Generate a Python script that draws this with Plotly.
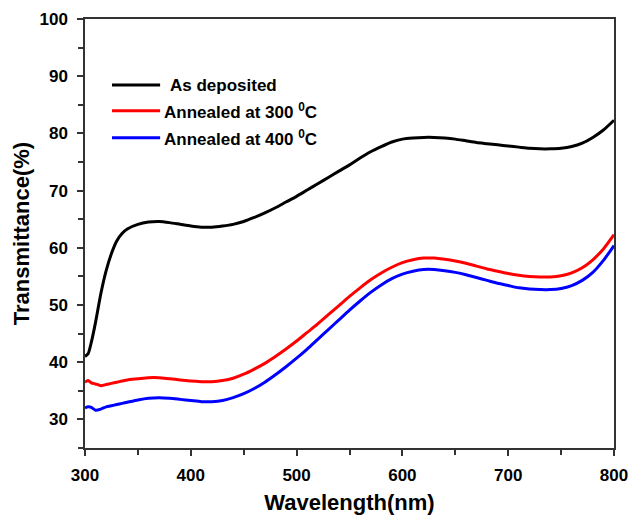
import plotly.graph_objects as go

# Wavelength grid (nm)
wavelength = [300, 303, 306, 310, 315, 320, 325, 330, 335, 340, 350, 360, 370, 380, 390,
              400, 410, 420, 430, 440, 450, 460, 470, 480, 490, 500, 510, 520, 530, 540,
              550, 560, 570, 580, 590, 600, 610, 620, 630, 640, 650, 660, 670, 680, 690,
              700, 710, 720, 730, 740, 750, 760, 770, 780, 790, 800]

# Transmittance (%) for each film
as_deposited = [41.0, 41.5, 43.5, 47.0, 52.0, 56.0, 59.0, 61.2, 62.5, 63.3, 64.1, 64.5, 64.6, 64.4, 64.1,
                63.8, 63.6, 63.6, 63.8, 64.1, 64.6, 65.3, 66.1, 67.0, 68.0, 69.0, 70.1, 71.2, 72.3, 73.4,
                74.5, 75.7, 76.8, 77.7, 78.5, 79.0, 79.2, 79.3, 79.3, 79.2, 79.0, 78.7, 78.4, 78.2, 78.0,
                77.8, 77.6, 77.4, 77.3, 77.3, 77.4, 77.7, 78.3, 79.3, 80.6, 82.3]

annealed_300 = [36.5, 36.8, 36.4, 36.2, 35.9, 36.1, 36.3, 36.5, 36.7, 36.9, 37.1, 37.3, 37.3, 37.1, 36.9,
                36.7, 36.6, 36.6, 36.8, 37.2, 37.9, 38.8, 39.8, 41.0, 42.3, 43.7, 45.2, 46.7, 48.3, 49.9,
                51.5, 53.0, 54.4, 55.6, 56.6, 57.4, 57.9, 58.2, 58.2, 58.0, 57.7, 57.3, 56.8, 56.3, 55.9,
                55.5, 55.2, 55.0, 54.9, 54.9, 55.1, 55.6, 56.5, 57.9, 59.8, 62.3]

annealed_400 = [32.0, 32.2, 32.1, 31.6, 31.8, 32.2, 32.4, 32.6, 32.8, 33.0, 33.4, 33.7, 33.8, 33.7, 33.5,
                33.3, 33.1, 33.1, 33.3, 33.8, 34.5, 35.4, 36.5, 37.8, 39.2, 40.7, 42.3, 44.0, 45.7, 47.4,
                49.1, 50.7, 52.2, 53.5, 54.6, 55.4, 55.9, 56.2, 56.2, 56.0, 55.7, 55.3, 54.8, 54.3, 53.8,
                53.4, 53.0, 52.8, 52.7, 52.7, 52.9, 53.4, 54.3, 55.7, 57.8, 60.4]

series_names = ["As deposited", "Annealed at 300 <sup>0</sup>C", "Annealed at 400 <sup>0</sup>C"]
series_colors = ["#000000", "#ff0000", "#0000ff"]
series_values = [as_deposited, annealed_300, annealed_400]

x_ticks = [300, 400, 500, 600, 700, 800]
y_ticks = [30, 40, 50, 60, 70, 80, 90, 100]

FONT = "Liberation Sans, Arial, sans-serif"

fig = go.Figure()
for name, color, vals in zip(series_names, series_colors, series_values):
    fig.add_trace(go.Scatter(x=wavelength, y=vals, mode="lines", name=name,
                             line=dict(color=color, width=3, shape="spline", smoothing=0.6),
                             showlegend=False))

# Hand-placed legend inside the upper-left corner
legend_y = [0.846, 0.786, 0.723]
legend_text_x = [0.157, 0.146, 0.146]
for name, color, ly, tx in zip(series_names, series_colors, legend_y, legend_text_x):
    fig.add_shape(type="line", xref="paper", yref="paper", x0=0.051, x1=0.142, y0=ly, y1=ly,
                  line=dict(color=color, width=3))
    fig.add_annotation(xref="paper", yref="paper", x=tx, y=ly, xanchor="left", yanchor="middle",
                       text="<b>" + name + "</b>", showarrow=False,
                       font=dict(family=FONT, size=17, color="black"))

axis_common = dict(showline=True, linecolor="#333333", linewidth=1.5, mirror=True,
                   ticks="outside", ticklen=6, tickwidth=1.5, tickcolor="#333333",
                   showgrid=False, zeroline=False, automargin=False,
                   tickfont=dict(family=FONT, size=17, color="black"))

fig.update_layout(
    width=632, height=517,
    margin=dict(l=85, r=18, t=19, b=69),
    paper_bgcolor="white", plot_bgcolor="white",
    xaxis=dict(range=[300, 800], tickvals=x_ticks, ticktext=["<b>%d</b>" % v for v in x_ticks],
               minor=dict(dtick=50, ticks="outside", ticklen=5, tickwidth=1.5, tickcolor="#333333"),
               title=dict(text="<b>Wavelength(nm)</b>", font=dict(family=FONT, size=22, color="black"),
                          standoff=10),
               ticklabelstandoff=5,
               **axis_common),
    yaxis=dict(range=[25, 100], tickvals=y_ticks, ticktext=["<b>%d</b>" % v for v in y_ticks],
               minor=dict(dtick=5, ticks="outside", ticklen=5, tickwidth=1.5, tickcolor="#333333"),
               title=dict(text="<b>Transmittance(%)</b>", font=dict(family=FONT, size=22, color="black"),
                          standoff=4),
               ticklabelstandoff=6,
               **axis_common),
)

fig.write_html("out.html")
